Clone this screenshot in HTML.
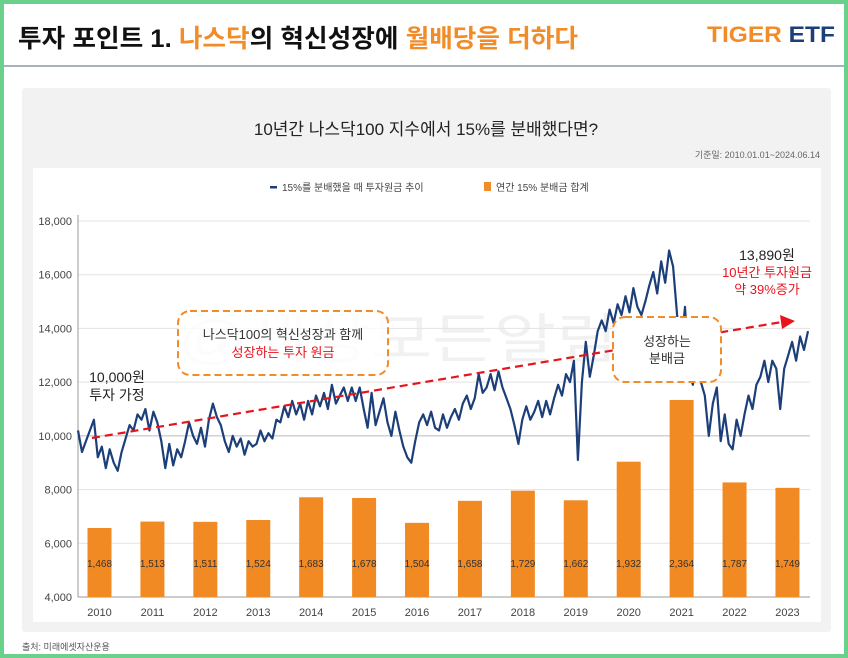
<!DOCTYPE html>
<html><head><meta charset="utf-8">
<style>
body{margin:0;width:848px;height:658px;background:#6bd08c;font-family:"Liberation Sans","Noto Sans CJK KR",sans-serif;overflow:hidden}
#page{position:absolute;left:4px;top:4px;width:840px;height:650px;background:#fff}
</style></head><body>
<div id="page">
<svg width="840" height="650" viewBox="4 4 840 650" style="position:absolute;left:0;top:0">
<text x="18" y="47" font-size="25" font-weight="bold" fill="#111" textLength="560" lengthAdjust="spacingAndGlyphs">투자 포인트 1. <tspan fill="#f28c28">나스닥</tspan>의 혁신성장에 <tspan fill="#f28c28">월배당을 더하다</tspan></text>
<text x="707" y="42" font-size="22" font-weight="bold" fill="#f28c28" textLength="128" lengthAdjust="spacingAndGlyphs">TIGER <tspan fill="#1c3f7a">ETF</tspan></text>
<line x1="4" y1="66" x2="844" y2="66" stroke="#8a9aa8" stroke-width="1.5"/>
<rect x="22" y="88" width="809" height="544" rx="3" fill="#f2f2f2"/>
<rect x="33" y="168" width="788" height="454" fill="#fff"/>
<text x="426" y="135" font-size="17" text-anchor="middle" fill="#222">10년간 나스닥100 지수에서 15%를 분배했다면?</text>
<text x="820" y="158" font-size="9" text-anchor="end" fill="#666">기준일: 2010.01.01~2024.06.14</text>
<g>
<rect x="270" y="186" width="7" height="2.5" fill="#1c3f7a"/>
<text x="282" y="191" font-size="10" fill="#444">15%를 분배했을 때 투자원금 추이</text>
<rect x="484" y="182" width="7" height="9" fill="#f28c28"/>
<text x="496" y="191" font-size="10" fill="#444">연간 15% 분배금 합계</text>
</g>
<text x="178" y="358" font-size="54" fill="#000" opacity="0.05" textLength="440" lengthAdjust="spacingAndGlyphs">@세상모든알림</text>
<g id="grid"></g><g id="bars"></g><g id="line"></g><g id="ann"></g>
<text x="22" y="650" font-size="9" fill="#555">출처: 미래에셋자산운용</text>
</svg>
</div>
<script>
const years=[2010,2011,2012,2013,2014,2015,2016,2017,2018,2019,2020,2021,2022,2023];
const dividends=[1468,1513,1511,1524,1683,1678,1504,1658,1729,1662,1932,2364,1787,1749];
const yTicks=[4000,6000,8000,10000,12000,14000,16000,18000];
const principal=[10.2,9.4,9.8,10.2,10.6,9.2,9.6,8.8,9.5,9.0,8.7,9.4,9.9,
10.4,10.2,10.8,10.6,11.0,10.2,10.9,10.5,9.8,8.8,9.7,8.9,9.5,9.2,9.8,
10.5,10.0,9.7,10.3,9.6,10.6,11.2,10.7,10.4,9.8,9.4,10.0,9.6,9.9,9.3,9.8,9.6,
9.7,10.2,9.8,10.1,9.9,10.6,10.5,11.1,10.7,11.3,10.8,11.2,10.6,11.3,
10.8,11.5,11.1,11.6,11.0,11.9,11.2,11.5,11.8,11.3,11.8,
11.3,11.8,11.0,10.3,11.6,10.4,10.9,11.4,10.5,10.0,10.9,10.2,
9.6,9.2,9.0,9.8,10.5,10.8,10.4,10.9,10.3,10.2,10.8,10.3,10.7,
11.0,10.6,11.2,11.5,11.0,11.4,12.3,11.6,11.8,12.3,11.7,12.4,
11.8,11.4,11.0,10.4,9.7,10.6,11.1,10.6,10.9,11.3,10.7,11.3,
10.8,11.4,11.9,11.5,12.3,12.0,12.8,9.1,12.0,13.5,12.2,13.0,13.9,
14.3,13.9,14.7,14.2,14.9,14.5,15.2,14.6,15.5,14.8,14.5,15.0,
15.6,16.1,15.3,16.5,15.7,16.9,16.3,14.5,13.2,14.8,12.4,11.9,
13.5,12.0,11.5,10.0,11.2,11.8,9.8,10.8,9.7,9.5,10.6,
10.0,10.8,11.5,11.0,11.9,12.2,12.8,12.0,12.8,12.5,11.0,12.5,
13.0,13.5,12.8,13.7,13.2,13.9];
const NS="http://www.w3.org/2000/svg";
function y(v){return 221+(18000-v)/14000*376;}
function xYear(i){return 99.5+i*52.92;}
function xLine(i){return 78+i*(808-78)/(principal.length-1);}
function barY(v){return y(4000+(v-985)*5.32);}
function mk(tag,attrs,parent){const e=document.createElementNS(NS,tag);for(const k in attrs)e.setAttribute(k,attrs[k]);document.getElementById(parent).appendChild(e);return e;}
yTicks.forEach(t=>{
 const l=mk('line',{x1:78,x2:810,y1:y(t),y2:y(t),stroke:t===4000?'#999':(t===10000?'#bbb':'#e3e3e3'),'stroke-width':1},'grid');
 
 
 const tx=mk('text',{x:72,y:y(t)+4,'font-size':11,'text-anchor':'end',fill:'#444'},'grid');
 tx.textContent=t.toLocaleString('en-US');
 
 
});
mk('line',{x1:78,x2:78,y1:215,y2:597,stroke:'#999'},'grid');
years.forEach((yr,i)=>{
 const cx=xYear(i),top=barY(dividends[i]);
 const r=mk('rect',{x:cx-12,y:top,width:24,height:597-top,fill:'#f28a24'},'bars');
 
 
 const v=mk('text',{x:cx,y:567,'font-size':10,'text-anchor':'middle',fill:'#333'},'bars');
 v.textContent=dividends[i].toLocaleString('en-US');
 
 
 const t=mk('text',{x:cx,y:616,'font-size':11,'text-anchor':'middle',fill:'#444'},'bars');
 t.textContent=yr;
 
 
});
const pts=principal.map((v,i)=>xLine(i).toFixed(1)+','+y(v*1000).toFixed(1)).join(' ');
const pl=mk('polyline',{points:pts,fill:'none',stroke:'#1c3f7a','stroke-width':2.2,'stroke-linejoin':'round'},'line');


const a=document.getElementById('ann');
a.innerHTML=`
<line x1="92" y1="438" x2="782" y2="322" stroke="#e8141c" stroke-width="2.2" stroke-dasharray="8,5"/>
<polygon points="780,315 795,321 782,329" fill="#e8141c"/>
<rect x="178" y="311" width="210" height="64" rx="12" fill="rgba(255,255,255,0.75)" stroke="#f28c28" stroke-width="2" stroke-dasharray="7,4"/>
<text x="283" y="339" font-size="13" text-anchor="middle" fill="#333">나스닥100의 혁신성장과 함께</text>
<text x="283" y="357" font-size="13" text-anchor="middle" fill="#e8141c">성장하는 투자 원금</text>
<rect x="613" y="317" width="108" height="65" rx="12" fill="#fff" stroke="#f28c28" stroke-width="2" stroke-dasharray="7,4"/>
<text x="667" y="346" font-size="13" text-anchor="middle" fill="#333">성장하는</text>
<text x="667" y="363" font-size="13" text-anchor="middle" fill="#333">분배금</text>
<text x="117" y="382" font-size="14" text-anchor="middle" fill="#222">10,000원</text>
<text x="117" y="400" font-size="14" text-anchor="middle" fill="#222">투자 가정</text>
<text x="767" y="260" font-size="14" text-anchor="middle" fill="#222">13,890원</text>
<text x="767" y="277" font-size="13" text-anchor="middle" fill="#e8141c">10년간 투자원금</text>
<text x="767" y="294" font-size="13" text-anchor="middle" fill="#e8141c">약 39%증가</text>`;
</script>
</body></html>
